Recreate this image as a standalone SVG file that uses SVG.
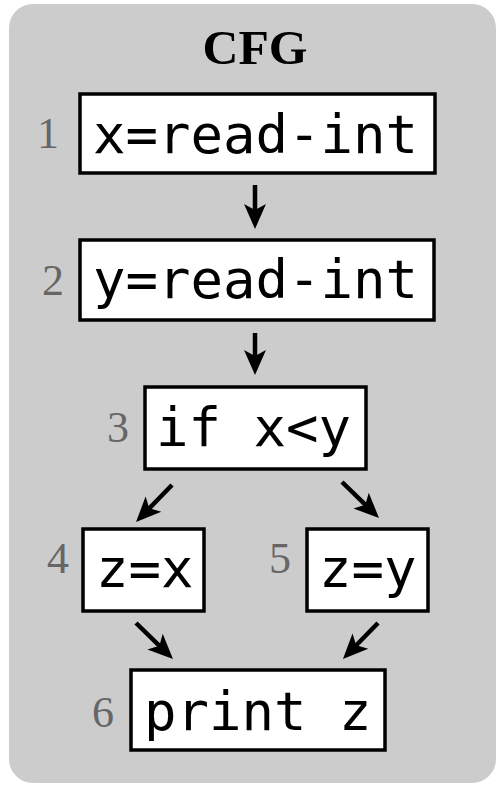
<svg xmlns="http://www.w3.org/2000/svg" width="498" height="786" viewBox="0 0 498 786">
<style>
.box{fill:#fff;stroke:#000;stroke-width:3.5}
.code{font-family:"DejaVu Sans Mono","Liberation Mono",monospace;font-size:54px;fill:#000}
.num{font-family:"Liberation Serif","DejaVu Serif",serif;font-size:44px;fill:#666;text-anchor:end}
.title{font-family:"Liberation Serif","DejaVu Serif",serif;font-size:49px;font-weight:bold;fill:#000;text-anchor:middle}
.edge{stroke:#000;stroke-width:4.5;fill:none;marker-end:url(#ah)}
</style>
<defs>
<marker id="ah" markerUnits="userSpaceOnUse" viewBox="0 -12 26 24" markerWidth="26" markerHeight="24" refX="8" refY="0" orient="auto">
<path d="M0,-11 L25,0 L0,11 L6,0 Z" fill="#000"/>
</marker>
</defs>
<rect x="9" y="4" width="487" height="779" rx="24" ry="24" fill="#cccccc"/>
<text class="title" x="255" y="64" textLength="105" lengthAdjust="spacingAndGlyphs">CFG</text>
<g id="connectors">
<line class="edge" x1="255" y1="185" x2="255" y2="212"/>
<line class="edge" x1="255" y1="333" x2="255" y2="358"/>
<line class="edge" x1="172" y1="485" x2="147.9" y2="509.8"/>
<line class="edge" x1="342" y1="482" x2="366.8" y2="506.1"/>
<line class="edge" x1="136" y1="623" x2="160.8" y2="647.1"/>
<line class="edge" x1="378" y1="623" x2="354.8" y2="646.8"/>
</g>
<g id="n1">
<text class="num" x="59" y="148">1</text>
<rect class="box" x="80" y="94" width="355" height="79"/>
<text class="code" x="93" y="153">x=read-int</text>
</g>
<g id="n2">
<text class="num" x="64" y="295">2</text>
<rect class="box" x="80" y="240" width="354" height="80"/>
<text class="code" x="93" y="298">y=read-int</text>
</g>
<g id="n3">
<text class="num" x="129" y="442">3</text>
<rect class="box" x="145" y="387" width="221" height="82"/>
<text class="code" x="156" y="446">if x&lt;y</text>
</g>
<g id="n4">
<text class="num" x="69" y="573">4</text>
<rect class="box" x="83" y="529" width="121" height="82"/>
<text class="code" x="96" y="587">z=x</text>
</g>
<g id="n5">
<text class="num" x="291" y="573">5</text>
<rect class="box" x="307" y="529" width="121" height="82"/>
<text class="code" x="319" y="587">z=y</text>
</g>
<g id="n6">
<text class="num" x="114" y="727">6</text>
<rect class="box" x="131" y="670" width="254" height="80"/>
<text class="code" x="144" y="730">print z</text>
</g>
</svg>
